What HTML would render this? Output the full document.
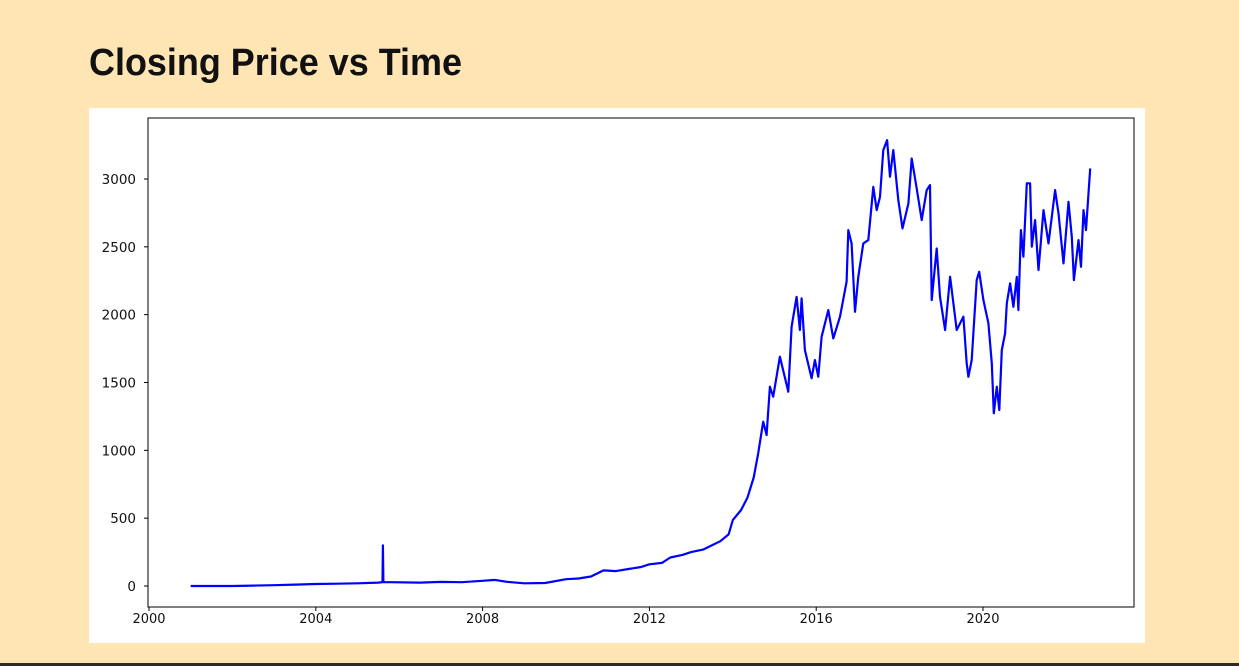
<!DOCTYPE html>
<html><head><meta charset="utf-8"><style>
html,body{margin:0;padding:0;background:#ffe4b4;}
svg{display:block;}
</style></head><body>
<svg width="1239" height="666" xmlns="http://www.w3.org/2000/svg">
<rect x="0" y="0" width="1239" height="666" fill="#ffe4b4"/>
<rect x="0" y="663" width="1239" height="3" fill="#2e2b28"/>
<text x="89" y="75" font-family="Liberation Sans, sans-serif" font-weight="bold" font-size="38" fill="#111" textLength="373" lengthAdjust="spacingAndGlyphs">Closing Price vs Time</text>
<rect x="89" y="108" width="1056" height="535" fill="#fff"/>
<g id="plot"></g>
</svg>
<script>
const xTicks=[2000,2004,2008,2012,2016,2020];
const yTicks=[0,500,1000,1500,2000,2500,3000];
const years=[2001.0,2002.0,2002.5,2003.0,2003.5,2004.0,2004.5,2005.0,2005.5,2005.6,2005.61,2005.62,2005.8,2006.5,2007.0,2007.5,2008.0,2008.3,2008.6,2009.0,2009.5,2010.0,2010.3,2010.6,2010.9,2011.2,2011.5,2011.8,2012.0,2012.3,2012.5,2012.8,2013.0,2013.3,2013.5,2013.7,2013.9,2014.0,2014.2,2014.35,2014.5,
2014.61,2014.73,2014.81,2014.89,2014.97,2015.13,2015.33,2015.41,2015.53,2015.61,2015.65,2015.73,2015.89,2015.97,2016.05,2016.13,2016.29,2016.41,2016.57,2016.73,2016.77,2016.85,2016.93,2017.01,2017.13,2017.25,2017.37,2017.45,2017.53,2017.61,2017.70,2017.77,2017.85,2017.97,2018.07,2018.21,2018.29,2018.41,2018.53,2018.65,2018.73,2018.77,2018.89,2018.97,2019.09,2019.21,2019.37,2019.53,2019.61,2019.65,2019.73,2019.85,2019.91,2020.01,2020.13,2020.21,2020.26,2020.33,2020.39,2020.45,2020.53,2020.57,2020.65,2020.73,2020.81,2020.85,2020.91,2020.97,2021.05,2021.13,2021.17,2021.25,2021.33,2021.45,2021.57,2021.73,2021.81,2021.93,2022.05,2022.13,2022.18,2022.29,2022.35,2022.41,2022.47,2022.57];
const prices=[0,0,3,6,10,15,17,20,25,28,300,28,28,25,30,28,38,45,30,20,22,50,55,70,115,110,125,140,160,170,210,230,250,270,300,330,380,486,560,650,800,
978,1211,1113,1469,1395,1690,1432,1911,2132,1887,2120,1739,1531,1665,1542,1837,2034,1825,1985,2243,2623,2525,2021,2279,2525,2550,2942,2771,2869,3213,3287,3016,3213,2845,2636,2820,3151,2930,2697,2918,2955,2108,2488,2132,1887,2280,1887,1985,1641,1542,1665,2255,2316,2108,1936,1641,1273,1469,1297,1739,1862,2083,2231,2058,2279,2034,2623,2427,2968,2968,2501,2697,2329,2771,2525,2918,2747,2378,2832,2574,2255,2550,2353,2771,2623,3078];
const NS='http://www.w3.org/2000/svg';
const L=148,R=1134,T=118,B=607;
function xs(v){return 149+(v-2000)*41.7;}
function ys(v){return 586-v*(407/3000);}
const g=document.getElementById('plot');
function mk(tag,attrs){const e=document.createElementNS(NS,tag);for(const k in attrs)e.setAttribute(k,attrs[k]);g.appendChild(e);return e;}
const frame=mk('rect',{x:L,y:T,width:R-L,height:B-T,fill:'none',stroke:'#000','stroke-width':1});


xTicks.forEach(t=>{
  const x=xs(t);
  const tk=mk('line',{x1:x,x2:x,y1:B,y2:B+4,stroke:'#000'});
  
  
  const tx=mk('text',{x:x,y:B+16,'text-anchor':'middle','font-family':'DejaVu Sans, sans-serif','font-size':13,fill:'#111'});
  tx.textContent=t;
  
  
});
yTicks.forEach(t=>{
  const y=ys(t);
  const tk=mk('line',{x1:L-4,x2:L,y1:y,y2:y,stroke:'#000'});
  
  
  const tx=mk('text',{x:L-12,y:y+5,'text-anchor':'end','font-family':'DejaVu Sans, sans-serif','font-size':13.5,fill:'#111'});
  tx.textContent=t;
  
  
});
const pts=years.map((yr,i)=>xs(yr).toFixed(1)+','+ys(prices[i]).toFixed(1)).join(' ');
const line=mk('polyline',{points:pts,fill:'none',stroke:'#0000ff','stroke-width':2.2,'stroke-linejoin':'round'});


</script>
</body></html>
